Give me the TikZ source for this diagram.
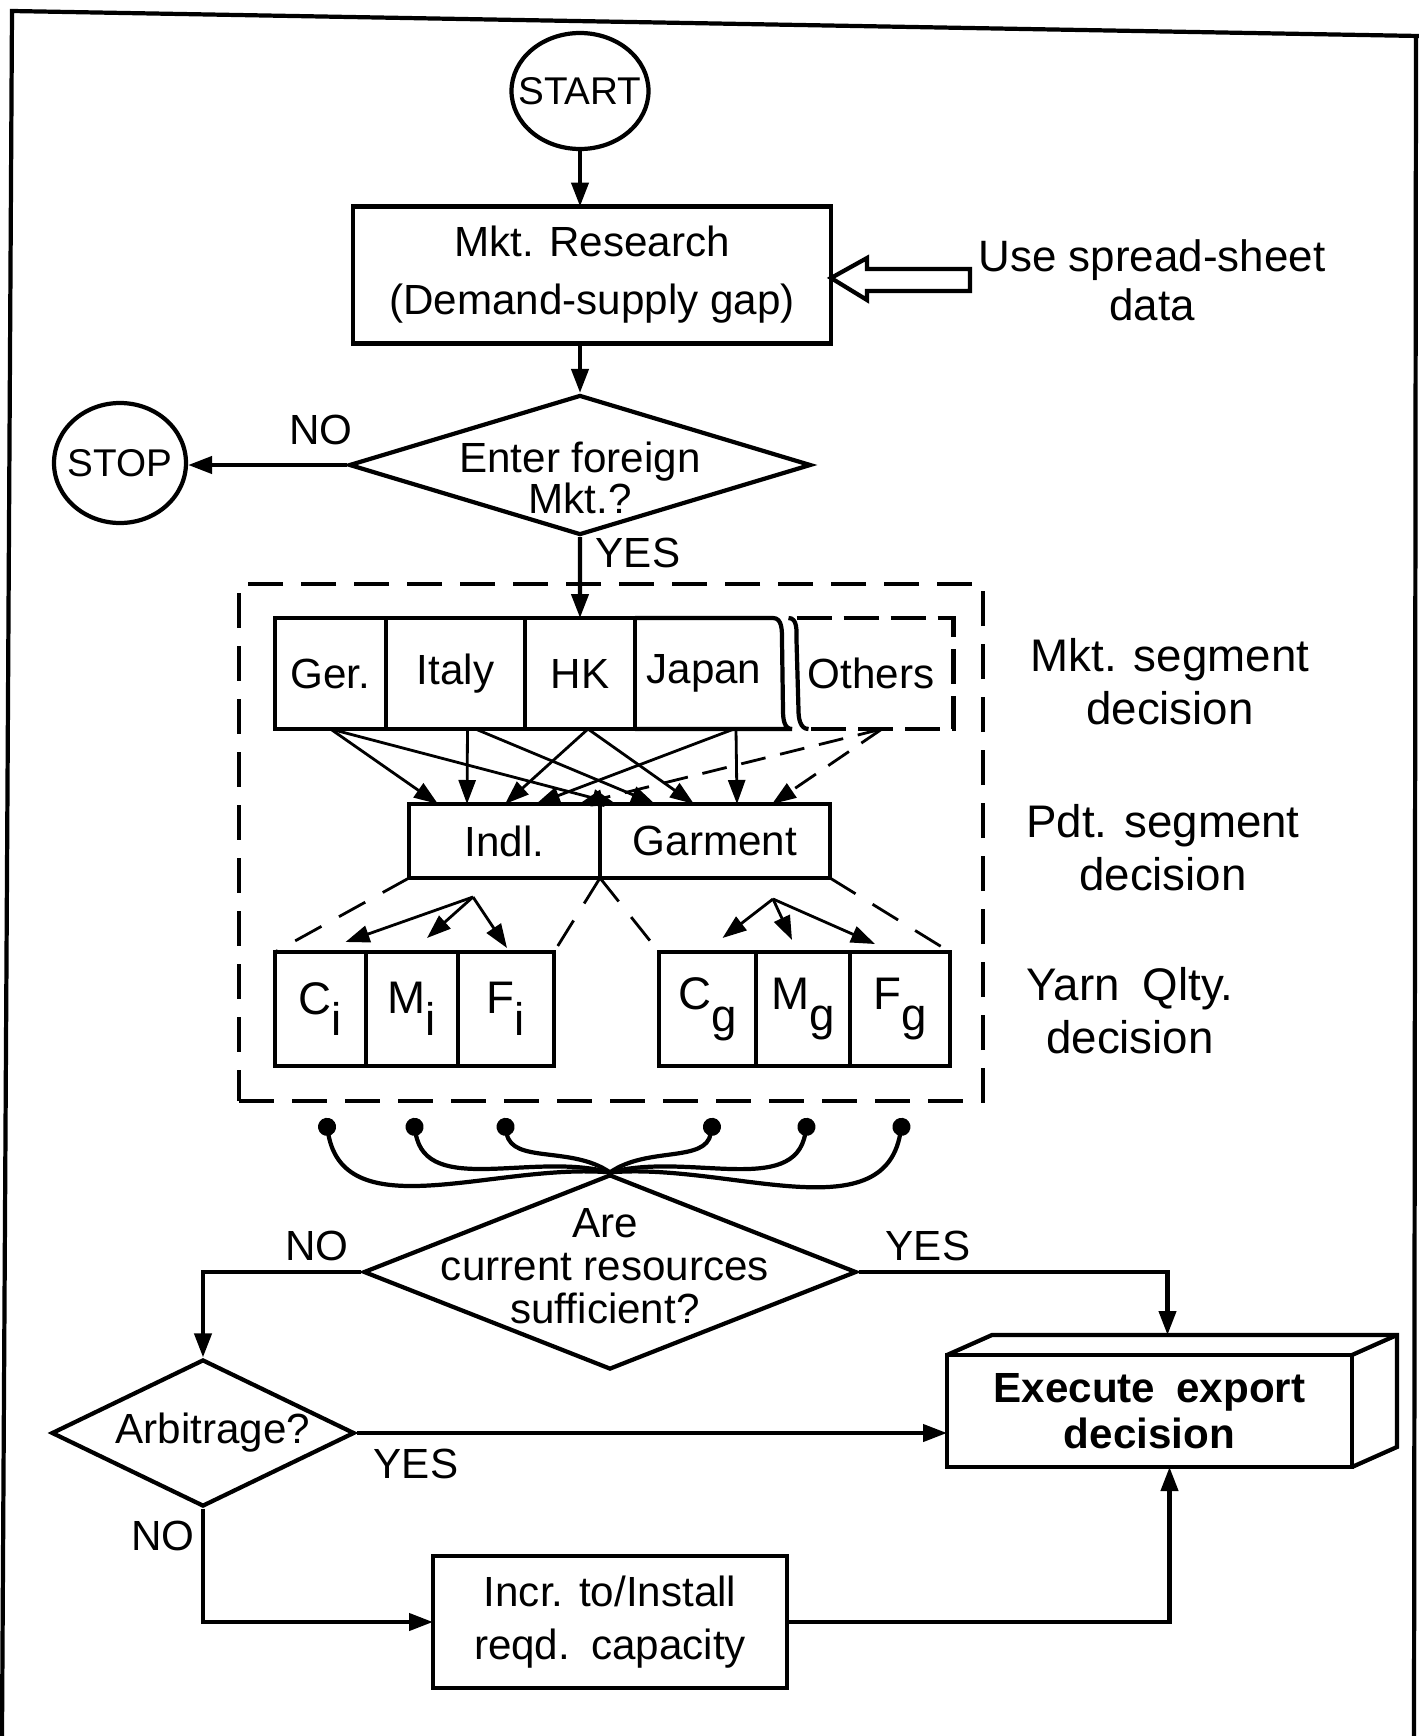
\documentclass[tikz,border=0pt]{standalone}
\usepackage{fontspec}
\setmainfont{Liberation Sans}
\usetikzlibrary{positioning}
\usetikzlibrary{shapes.geometric}
\usetikzlibrary{arrows.meta}
\usetikzlibrary{calc}

\newcommand{\qsub}[2]{#1\raisebox{-0.9ex}{#2}}

\begin{document}
\begin{tikzpicture}[
    x=0.1mm, y=-0.1mm,
    >={Triangle[length=2.4mm, width=1.7mm]},
    font=\fontsize{12}{14}\selectfont,
    roundnode/.style={ellipse, draw, very thick, inner sep=0pt},
    squarednode/.style={rectangle, draw, very thick, inner sep=0pt, outer sep=0pt, align=center},
    cellnode/.style={rectangle, draw, very thick, inner sep=0pt, outer sep=0pt, minimum height=11.1mm},
    cellnode_open/.style={cellnode, draw=none},
    yarnnode/.style={cellnode, minimum height=11.4mm, font=\fontsize{13}{15}\selectfont},
    decisionnode/.style={diamond, draw, very thick, inner sep=0pt},
    textnode/.style={align=center, inner sep=0pt},
    groupbox/.style={rectangle, draw, very thick, dash pattern=on 3.5mm off 1.8mm},
  ]
  \useasboundingbox (0,0) rectangle (1419,1736);
  % page frame
  \draw[very thick] (2,1736) -- (12,11) -- (1419,36);
  \draw[very thick] (1416,36) -- (1414,1736);

  % Nodes
  \node[roundnode, minimum width=13.7mm, minimum height=11.6mm, label={[font=\fontsize{11}{13}\selectfont]center:START}] (start) at (580,91) {};
  \node[squarednode, minimum width=47.8mm, minimum height=13.7mm, font=\fontsize{12}{16.5}\selectfont] (mkt) at (592,275) {Mkt. Research\\(Demand-supply gap)};
  \node[textnode, font=\fontsize{12.5}{14}\selectfont] (sheet) at (1152,280) {Use spread-sheet\\data};
  \node[decisionnode, minimum width=46.2mm, minimum height=14mm, label={[align=center, yshift=-1.3mm, font=\fontsize{12}{11.5}\selectfont]center:Enter foreign\\Mkt.?}] (enter) at (580,465) {};
  \node[roundnode, minimum width=13.2mm, minimum height=12mm, label={[font=\fontsize{11}{13}\selectfont]center:STOP}] (stop) at (120,463) {};

  \node[groupbox, minimum width=74.4mm, minimum height=51.7mm] (segbox) at (611,842.5) {};

  \node[cellnode, minimum width=11.1mm] (ger) at (330.5,673.5) {Ger.};
  \node[cellnode, minimum width=13.9mm, right=0pt of ger] (italy) {Italy};
  \node[cellnode, minimum width=11mm, right=0pt of italy] (hk) {HK};
  \node[cellnode_open, minimum width=13.8mm, right=0pt of hk] (japan) {Japan};
  \node[cellnode_open, minimum width=16.5mm, right=1.55mm of japan] (others) {Others};

  \node[cellnode, minimum width=19.1mm, minimum height=7.4mm] (indl) at (504.5,841) {Indl.};
  \node[cellnode, minimum width=23mm, minimum height=7.4mm, right=0pt of indl] (garment) {Garment};

  \node[yarnnode, minimum width=9.1mm] (ci) at (320.5,1009) {\qsub{C}{i}};
  \node[yarnnode, minimum width=9.2mm, right=0pt of ci] (mi) {\qsub{M}{i}};
  \node[yarnnode, minimum width=9.6mm, right=0pt of mi] (fi) {\qsub{F}{i}};
  \node[yarnnode, minimum width=9.7mm] (cg) at (707.5,1009) {\qsub{C}{g}};
  \node[yarnnode, minimum width=9.4mm, right=0pt of cg] (mg) {\qsub{M}{g}};
  \node[yarnnode, minimum width=10mm, right=0pt of mg] (fg) {\qsub{F}{g}};

  \node[textnode, font=\fontsize{13}{15}\selectfont] (mktlabel) at (1170,682) {Mkt. segment\\decision};
  \node[textnode, font=\fontsize{13}{15}\selectfont] (pdtlabel) at (1163,848) {Pdt. segment\\decision};
  \node[textnode, font=\fontsize{13}{15}\selectfont] (yarnlabel) at (1130,1011) {Yarn\enspace Qlty.\\decision};

  \node[decisionnode, minimum width=49.3mm, minimum height=19.5mm, label={[align=center, xshift=-0.5mm, yshift=0.6mm, font=\fontsize{12}{12.2}\selectfont]center:Are\\current resources\\sufficient?}] (are) at (610,1272) {};
  \node[decisionnode, minimum width=30.3mm, minimum height=14.7mm, label={[xshift=1mm]center:Arbitrage?}] (arb) at (203,1433) {};
  \node[squarednode, minimum width=40.5mm, minimum height=11.2mm, font=\bfseries\fontsize{12}{13}\selectfont] (exec) at (1149.5,1411) {Execute\enspace export\\decision};
  \node[squarednode, minimum width=35.4mm, minimum height=13.2mm, font=\fontsize{12}{15}\selectfont] (incr) at (610,1622) {Incr. to/Install\\reqd.\enspace capacity};

  \node (no_stop) at (321,430) {NO};
  \node (yes_enter) at (638,553) {YES};
  \node (no_are) at (317,1246) {NO};
  \node (yes_are) at (928,1246) {YES};
  \node (yes_arb) at (416,1464) {YES};
  \node (no_arb) at (163,1536) {NO};

  % Borders of the broken segment boxes
  \draw[very thick] (japan.north west) -- (japan.north east) to[out=0,in=90] ++(9,22) -- ++(1,70) to[out=-90,in=180] ++(9,19) -- (japan.south west);
  \draw[very thick] (others.north west) to[out=0,in=90] ++(8,22) -- ++(2,70) to[out=-90,in=180] ++(10,19);
  \draw[very thick, dash pattern=on 3.5mm off 1.2mm] ($(others.north west)+(8,0)$) -- (others.north east) -- (others.south east) -- ($(others.south west)+(20,0)$);
  \draw[very thick] (exec.north west) -- ++(45,-20) -- ($(exec.north east)+(45,-20)$) -- ($(exec.south east)+(45,-20)$) -- (exec.south east);
  \draw[very thick] (exec.north east) -- ++(45,-20);

  % Lines
  \draw[->, very thick] (start.south) -- (start.south |- mkt.north);
  \draw[->, very thick] (start.south |- mkt.south) -- (enter.north);
  \draw[very thick] ($(mkt.east)+(0,3)$) -- ++(36,-20) -- ++(0,11) -- ++(103,0) -- ++(0,22) -- ++(-103,0) -- ++(0,9) -- cycle;
  \draw[->, very thick] (enter.west) -- (enter.west -| stop.east);
  \draw[->, very thick] (enter.south) -- (hk.north);

  \draw[->, thick] (ger.south) -- ($(indl.north west)+(29,0)$);
  \draw[->, thick] (ger.south) -- ($(garment.north west)+(16,0)$);
  \draw[->, thick] ($(italy.south)+(12,0)$) -- ($(indl.north west)+(58,0)$);
  \draw[->, thick] ($(italy.south)+(20,0)$) -- ($(garment.north west)+(55,0)$);
  \draw[->, thick] ($(hk.south)+(8,0)$) -- ($(indl.north west)+(96,0)$);
  \draw[->, thick] ($(hk.south)+(8,0)$) -- ($(garment.north west)+(94,0)$);
  \draw[->, thick] ($(japan.south)+(30,0)$) -- ($(indl.north west)+(127,0)$);
  \draw[->, thick] ($(japan.south)+(32,0)$) -- ($(garment.north west)+(137,0)$);
  \draw[->, thick, dash pattern=on 2.5mm off 1.5mm] ($(others.south)+(11,0)$) -- ($(indl.north west)+(170,0)$);
  \draw[->, thick, dash pattern=on 2.5mm off 1.5mm] ($(others.south)+(11,0)$) -- ($(garment.north west)+(172,0)$);

  \draw[thick, dash pattern=on 3mm off 2mm] (indl.south west) -- (ci.north west);
  \draw[thick, dash pattern=on 3mm off 2mm] (indl.south east) -- (fi.north east);
  \draw[thick, dash pattern=on 3mm off 2mm] (garment.south west) -- (cg.north west);
  \draw[thick, dash pattern=on 3mm off 2mm] (garment.south east) -- (fg.north east);

  \coordinate (isplit) at (473,897);
  \coordinate (gsplit) at (773,899);
  \draw[->, thick] (isplit) -- ($(ci.north)+(25,-10)$);
  \draw[->, thick] (isplit) -- ($(mi.north)+(15,-14)$);
  \draw[->, thick] (isplit) -- ($(fi.north)+(1,-4)$);
  \draw[->, thick] (gsplit) -- ($(cg.north)+(15,-14)$);
  \draw[->, thick] (gsplit) -- ($(mg.north)+(-11,-12)$);
  \draw[->, thick] (gsplit) -- ($(fg.north)+(-25,-8)$);

  \draw[very thick, {Circle[length=1.8mm]}-] ($(ci.south)+(5,52)$) to[out=-80, in=175] (are.north);
  \draw[very thick, {Circle[length=1.8mm]}-] ($(mi.south)+(1,52)$) to[out=-80, in=165] (are.north);
  \draw[very thick, {Circle[length=1.8mm]}-] ($(fi.south)+(-2,52)$) to[out=-80, in=145] (are.north);
  \draw[very thick, {Circle[length=1.8mm]}-] ($(cg.south)+(6,52)$) to[out=-100, in=35] (are.north);
  \draw[very thick, {Circle[length=1.8mm]}-] ($(mg.south)+(5,52)$) to[out=-100, in=15] (are.north);
  \draw[very thick, {Circle[length=1.8mm]}-] ($(fg.south)+(3,52)$) to[out=-100, in=5] (are.north);

  \draw[->, very thick] (are.west) -| (arb.north);
  \draw[->, very thick] (are.east) -| ($(exec.north)+(18,-20)$);
  \draw[->, very thick] (arb.east) -- (arb.east -| exec.west);
  \draw[->, very thick] (arb.south) |- (incr.west);
  \draw[->, very thick] (incr.east) -| ($(exec.south)+(20,0)$);
\end{tikzpicture}
\end{document}
